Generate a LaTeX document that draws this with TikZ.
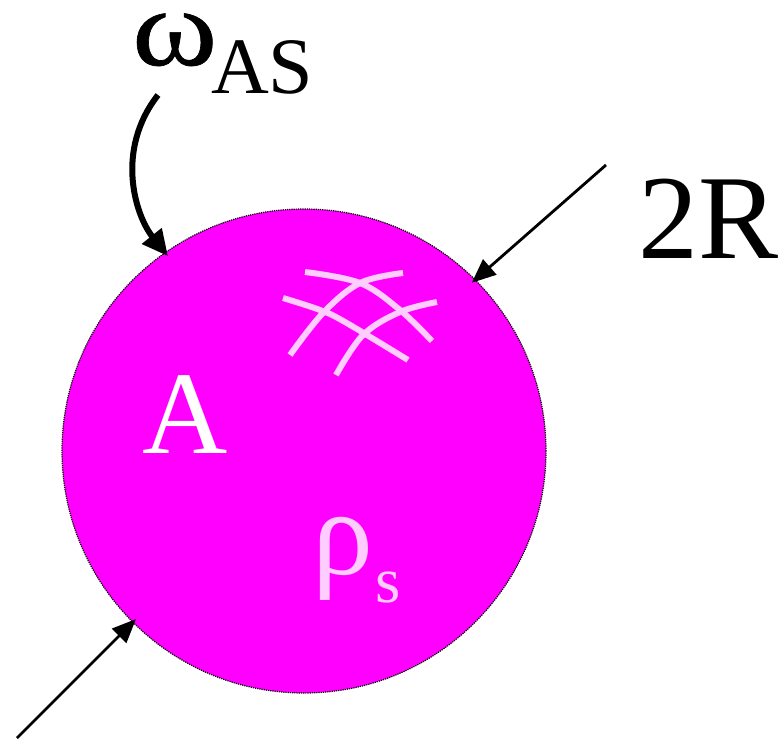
\documentclass[tikz,border=0pt]{standalone}
\usepackage{fontspec}
\setmainfont{Liberation Serif}
\newfontfamily\omegafont{Liberation Serif}[FakeBold=0.6,FakeStretch=1.18]
\usetikzlibrary{arrows.meta}
\definecolor{mag}{HTML}{FF00FF}
\definecolor{lpink}{HTML}{FFCCFF}
\begin{document}
\begin{tikzpicture}[x=1pt,y=-1pt,
  lbl/.style={anchor=base west,inner sep=0pt,outer sep=0pt},
  thinarrow/.style={line width=2.8pt,-{Triangle[length=24pt,width=20pt]},shorten >=-5pt},
  fatarrow/.style={line width=6pt,-{Triangle[length=26pt,width=24pt]},shorten >=-5pt},
  mesh/.style={lpink,line width=6pt},
]
\useasboundingbox (0,0) rectangle (782,742);
\node[circle,minimum size=484pt,inner sep=0pt,fill=mag,draw=black,densely dotted,line width=1.2pt] (circ) at (304,451) {};
% labels
\node[lbl,font=\omegafont\fontsize{110}{110}\selectfont,text height=56pt,text depth=0pt] (omega) at (132,65) {ω};
\node[lbl,font=\fontsize{80}{80}\selectfont] (as) at (211,93) {AS};
\node[lbl,font=\fontsize{120}{120}\selectfont] (tworr) at (638,258) {2R};
\node[lbl,font=\fontsize{118}{118}\selectfont,text=white] (A) at (142,453) {A};
\node[lbl,font=\fontsize{122}{122}\selectfont,text=lpink] (rho) at (312,574) {ρ};
\node[lbl,font=\fontsize{65}{65}\selectfont,text=lpink] (s) at (375,602) {s};
% mesh
\draw[mesh] plot[smooth,tension=0.6] coordinates {(305,272) (360,283) (400,310) (432,341)};
\draw[mesh] plot[smooth,tension=0.6] coordinates {(403,273) (360,283) (323,313) (290,355)};
\draw[mesh] plot[smooth,tension=0.6] coordinates {(283,298) (320,310) (345,322) (408,360)};
\draw[mesh] plot[smooth,tension=0.6] coordinates {(437,302) (400,312) (363,335) (336,375)};
% arrows
\coordinate (c1) at (158,95);
\coordinate (c2) at (606,165);
\coordinate (c3) at (17,738);
\draw[fatarrow] (c1) .. controls (115,150) and (135,215) .. (circ.125);
\draw[thinarrow] (c2) -- (circ.45);
\draw[thinarrow] (c3) -- (circ.225);
\end{tikzpicture}
\end{document}
